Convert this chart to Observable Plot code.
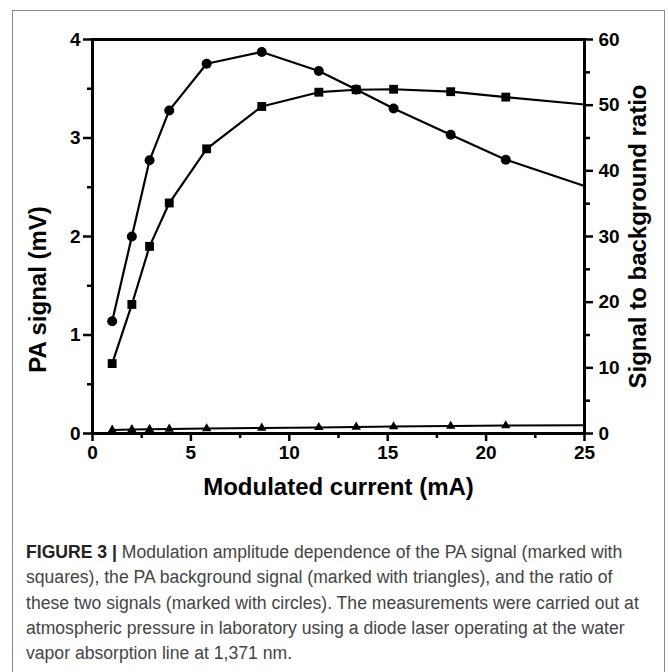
<!DOCTYPE html>
<html>
<head>
<meta charset="utf-8">
<script src="https://cdn.jsdelivr.net/npm/d3@7"></script>
<script src="https://cdn.jsdelivr.net/npm/@observablehq/plot@0.6"></script>
<style>
  html, body { margin: 0; padding: 0; background: #fff; }
  #page { position: relative; width: 668px; height: 672px; overflow: hidden; }
  #box { position: absolute; left: 12px; top: 10px; width: 653px; height: 700px; border: 1px solid #8a8a8a; box-sizing: border-box; }
  #chart { position: absolute; left: 0; top: 0; }
  #cap { position: absolute; left: 26px; top: 540px; font-family: "Liberation Sans", Arial, sans-serif; font-size: 17.6px; line-height: 25.3px; color: #444; white-space: nowrap; }
  #cap b { color: #222; }
</style>
</head>
<body>
<div id="page">
  <div id="box"></div>
  <div id="chart"></div>
  <div id="cap"><b>FIGURE 3 |</b> Modulation amplitude dependence of the PA signal (marked with<br>squares), the PA background signal (marked with triangles), and the ratio of<br>these two signals (marked with circles). The measurements were carried out at<br>atmospheric pressure in laboratory using a diode laser operating at the water<br>vapor absorption line at 1,371 nm.</div>
</div>
<script>
// Data
const current    = [1, 2, 2.9, 3.9, 5.8, 8.6, 11.5, 13.4, 15.3, 18.2, 21, 25];          // mA
const paSignal   = [0.71, 1.31, 1.90, 2.34, 2.89, 3.32, 3.465, 3.49, 3.495, 3.47, 3.415, 3.34]; // mV (squares)
const background = [0.036, 0.040, 0.043, 0.045, 0.050, 0.056, 0.062, 0.066, 0.070, 0.075, 0.080, 0.085]; // mV (triangles)
const ratio      = [17.1, 30.0, 41.6, 49.2, 56.3, 58.1, 55.2, 52.4, 49.5, 45.5, 41.7, 37.7]; // (circles, right axis)

const xTicks      = [0, 5, 10, 15, 20, 25];
const xMinorTicks = [2.5, 7.5, 12.5, 17.5, 22.5];
const yLeftTicks  = [0, 1, 2, 3, 4];
const yLeftMinor  = [0.5, 1.5, 2.5, 3.5];
const yRightTicks = [0, 10, 20, 30, 40, 50, 60];
const yRightMinor = [5, 15, 25, 35, 45, 55];
const rightMax = 60, leftMax = 4;
const k = rightMax / leftMax;

const rows = current.map((x, i) => ({x, pa: paSignal[i], bg: background[i], ratio: ratio[i]}));
const markers = rows.filter(d => d.x < 25);

const font = {fontSize: 19, fontWeight: "bold", fontFamily: "Liberation Sans, Arial, sans-serif"};
const titleFont = {fontSize: 24, fontWeight: "bold", fontFamily: "Liberation Sans, Arial, sans-serif", fill: "#000", textAnchor: "middle"};

const chart = Plot.plot({
  width: 668,
  height: 530,
  marginLeft: 92,
  marginRight: 84,
  marginTop: 39,
  marginBottom: 97,
  style: {background: "transparent", color: "#000", fontFamily: "Liberation Sans, Arial, sans-serif"},
  x: {domain: [0, 25], label: null},
  y: {domain: [0, leftMax], label: null},
  marks: [
    // minor ticks
    Plot.axisX({ticks: xMinorTicks, tickSize: 5, tickFormat: () => "", strokeWidth: 2.5, label: null}),
    Plot.axisY({ticks: yLeftMinor, tickSize: 5, tickFormat: () => "", strokeWidth: 2.5, label: null}),
    Plot.axisY({anchor: "right", ticks: yRightMinor.map(v => v / k), tickSize: 5, tickFormat: () => "", strokeWidth: 2.5, label: null}),
    // major ticks
    Plot.axisX({ticks: xTicks, tickFormat: d => String(d), tickSize: 8, tickPadding: 4, strokeWidth: 2.5, label: null, ...font}),
    Plot.axisY({ticks: yLeftTicks, tickFormat: d => String(d), tickSize: 9, tickPadding: 3, strokeWidth: 2.5, label: null, ...font}),
    Plot.axisY({anchor: "right", ticks: yRightTicks.map(v => v / k), tickFormat: d => String(Math.round(d * k)), tickSize: 8, tickPadding: 6, strokeWidth: 2.5, label: null, ...font}),
    Plot.frame({stroke: "#000", strokeWidth: 3}),
    // series
    Plot.line(rows, {x: "x", y: "bg", stroke: "#000", strokeWidth: 2}),
    Plot.line(rows, {x: "x", y: "pa", stroke: "#000", strokeWidth: 2.2}),
    Plot.line(rows, {x: "x", y: d => d.ratio / k, stroke: "#000", strokeWidth: 2.2}),
    Plot.dot(markers, {x: "x", y: "bg", symbol: "triangle", r: 3.5, fill: "#000"}),
    Plot.dot(markers, {x: "x", y: "pa", symbol: "square", r: 5, fill: "#000"}),
    Plot.dot(markers, {x: "x", y: d => d.ratio / k, symbol: "circle", r: 5, fill: "#000"}),
    // axis titles
    Plot.text(["Modulated current (mA)"], {frameAnchor: "bottom", dy: 61, ...titleFont}),
    Plot.text(["PA signal (mV)"], {frameAnchor: "left", dx: -54, dy: 53, rotate: -90, ...titleFont}),
    Plot.text(["Signal to background ratio"], {frameAnchor: "right", dx: 54, rotate: -90, ...titleFont})
  ]
});
document.getElementById("chart").appendChild(chart);
</script>
</body>
</html>
